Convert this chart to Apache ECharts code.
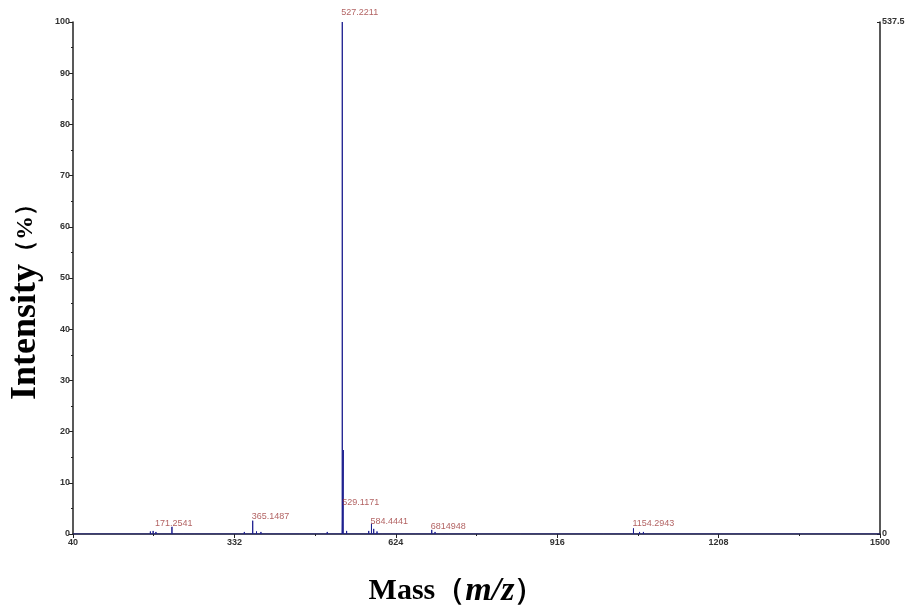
<!DOCTYPE html>
<html>
<head>
<meta charset="utf-8">
<script src="https://cdn.jsdelivr.net/npm/echarts@6/dist/echarts.min.js"></script>
<style>
  html, body { margin: 0; padding: 0; background: #fff; }
  #main { width: 909px; height: 612px; }
</style>
</head>
<body>
<div id="main"></div>
<script>
// stick spectrum, positions (m/z, %)
const stickMz = [180, 185, 190, 219, 240, 260, 300, 340, 350, 365.1, 372, 380, 400, 420, 450, 480, 500,
  527.2, 529.1, 535, 550, 575, 580, 584, 590, 600, 640, 660, 689, 695, 705, 720, 780, 850, 1000, 1054, 1065, 1072];
const stickInt = [0.5, 0.6, 0.4, 1.4, 0.3, 0.2, 0.3, 0.3, 0.4, 2.6, 0.5, 0.4, 0.3, 0.3, 0.3, 0.3, 0.4,
  100, 16.4, 0.6, 0.3, 0.6, 2.0, 1.0, 0.5, 0.3, 0.3, 0.3, 0.8, 0.4, 0.3, 0.3, 0.2, 0.2, 0.3, 1.1, 0.4, 0.4];

// labelled peaks
const peakMz = [219, 365.1, 527.2, 529.1, 580, 689, 1054];
const peakInt = [1.4, 2.6, 100, 16.4, 2.0, 0.8, 1.1];
const peakText = ['171.2541', '365.1487', '527.2211', '529.1171', '584.4441', '6814948', '1154.2943'];

const xTicks = [40, 332, 624, 916, 1208, 1500];
const rightMax = 537.5;

const lineData = [];
stickMz.forEach((m, i) => {
  lineData.push([m, 0], [m, stickInt[i]], [m, 0]);
});
lineData.unshift([40, 0]);
lineData.push([1500, 0]);

// label nudges so they sit where the original software put them
const labelOffsets = {
  '171.2541': [-16, 6],
  '365.1487': [0, 5],
  '529.1171': [0, 62],
  '584.4441': [0, 7],
  '6814948': [0, 6],
  '1154.2943': [0, 5]
};

const chart = echarts.init(document.getElementById('main'));
const axisCol = '#222';
const tickFont = { fontFamily: 'Liberation Sans', fontWeight: 'bold', fontSize: 9, color: '#333' };

chart.setOption({
  animation: false,
  grid: { left: 73, right: 29, top: 22, bottom: 78, outerBoundsMode: 'none' },
  xAxis: {
    type: 'value',
    min: 40, max: 1500, interval: 292,
    name: '{a|Mass（}{b|m/z}{a|）}',
    nameLocation: 'middle',
    nameGap: 40,
    nameTextStyle: {
      padding: [0, 40, 0, 0],
      rich: {
        a: { fontFamily: 'Liberation Serif', fontWeight: 'bold', fontSize: 30, color: '#000' },
        b: { fontFamily: 'Liberation Serif', fontWeight: 'bold', fontStyle: 'italic', fontSize: 34, color: '#000' }
      }
    },
    axisLine: { lineStyle: { color: axisCol, width: 1.5 } },
    axisTick: { length: 4, lineStyle: { color: axisCol } },
    minorTick: { show: true, splitNumber: 2, length: 2, lineStyle: { color: axisCol } },
    axisLabel: Object.assign({ margin: 4, showMaxLabel: true, showMinLabel: true,
      formatter: v => xTicks.includes(v) ? String(v) : '' }, tickFont),
    splitLine: { show: false }
  },
  yAxis: [{
    type: 'value',
    min: 0, max: 100, interval: 10,
    name: '{a|Intensity}{b|（%）}',
    nameLocation: 'middle',
    nameGap: 28,
    nameTextStyle: {
      padding: [0, 36, 0, 0],
      rich: {
        a: { fontFamily: 'Liberation Serif', fontWeight: 'bold', fontSize: 36, color: '#000' },
        b: { fontFamily: 'Liberation Serif', fontWeight: 'bold', fontSize: 24, color: '#000' }
      }
    },
    axisLine: { show: true, lineStyle: { color: axisCol, width: 1.5 } },
    axisTick: { show: true, length: 4, lineStyle: { color: axisCol } },
    minorTick: { show: true, splitNumber: 2, length: 2, lineStyle: { color: axisCol } },
    axisLabel: Object.assign({ margin: 3 }, tickFont),
    splitLine: { show: false }
  }, {
    type: 'value',
    position: 'right',
    min: 0, max: rightMax, interval: rightMax,
    axisLine: { show: true, lineStyle: { color: axisCol, width: 1.5 } },
    axisTick: { show: true, inside: true, length: 3, lineStyle: { color: axisCol } },
    axisLabel: Object.assign({ margin: 2 }, tickFont),
    splitLine: { show: false }
  }],
  series: [{
    type: 'line',
    data: lineData,
    symbol: 'none',
    lineStyle: { color: '#1f2190', width: 1 },
    z: 3
  }, {
    type: 'scatter',
    symbolSize: 0,
    data: peakMz.map((m, i) => {
      const off = labelOffsets[peakText[i]] || [0, 0];
      return {
        value: [m, peakInt[i]],
        label: {
          show: true,
          formatter: peakText[i],
          position: 'top',
          align: 'left',
          offset: [off[0] - 1, off[1]],
          fontFamily: 'Liberation Sans',
          fontSize: 9,
          color: '#9e3838'
        }
      };
    }),
    z: 4
  }]
});
</script>
</body>
</html>
